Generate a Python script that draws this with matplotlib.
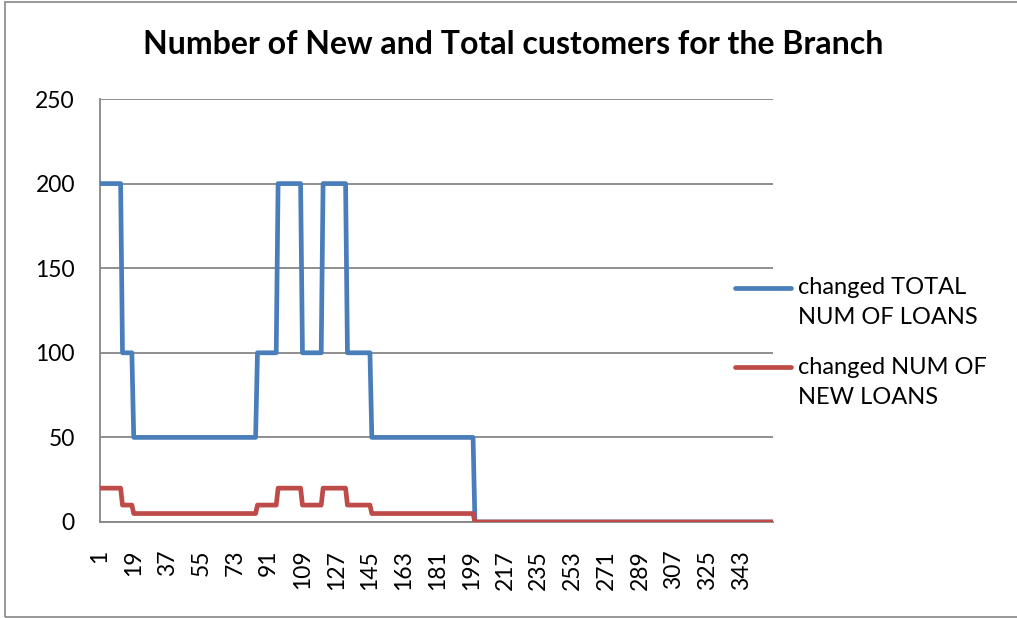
import numpy as np
import matplotlib
matplotlib.use("Agg")
import matplotlib.pyplot as plt
from matplotlib.patches import Rectangle
from matplotlib.lines import Line2D

# Run-length description of the two series (level, number of days)
run_lengths = [12, 6, 66, 11, 13, 11, 13, 13, 55, 160]
total_levels = [200, 100, 50, 100, 200, 100, 200, 100, 50, 0]
new_levels = [20, 10, 5, 10, 20, 10, 20, 10, 5, 0]

total_loans = np.repeat(total_levels, run_lengths)
new_loans = np.repeat(new_levels, run_lengths)
days = np.arange(1, len(total_loans) + 1)

x_tick_labels = list(range(1, 344, 18))
y_ticks = [0, 50, 100, 150, 200, 250]

series_names = ["changed TOTAL\nNUM OF LOANS", "changed NUM OF\nNEW LOANS"]
title = "Number of New and Total customers for the Branch"

plt.rcParams["font.family"] = ["Lato", "DejaVu Sans"]

W, H = 1017, 618
fig = plt.figure(figsize=(W / 100, H / 100), dpi=100)

# outer chart frame
fig.patches.append(Rectangle((5 / W, 1 / H), 1.2, (616 - 1) / H, transform=fig.transFigure,
                             fill=False, edgecolor="#868686", linewidth=1.2))

left, right, top, bottom = 100, 773, 99, 522
ax = fig.add_axes([left / W, 1 - bottom / H, (right - left) / W, (bottom - top) / H])

blue = "#4A7EBB"
red = "#BE4B48"
colors = [blue, red]
ax.plot(days, total_loans, color=blue, lw=3.4, solid_joinstyle="round",
        solid_capstyle="round", zorder=3)
ax.plot(days, new_loans, color=red, lw=3.4, solid_joinstyle="round",
        solid_capstyle="round", zorder=3)

ax.set_xlim(days[0], days[-1])
ax.set_ylim(0, 250)
ax.set_yticks(y_ticks)
ax.set_xticks(x_tick_labels)
ax.set_xticklabels([str(v) for v in x_tick_labels], rotation=90, va="top")
ax.tick_params(axis="both", length=0, labelsize=16.5, colors="black")
ax.tick_params(axis="x", pad=20)
ax.tick_params(axis="y", pad=18)

ax.grid(axis="y", color="#868686", lw=1.3)
ax.grid(axis="x", visible=False)
ax.set_axisbelow(True)
for side in ["top", "right"]:
    ax.spines[side].set_visible(False)
for side in ["left", "bottom"]:
    ax.spines[side].set_color("#868686")
    ax.spines[side].set_linewidth(1.3)

fig.text(513 / W, 1 - 45 / H, title, ha="center", va="center",
         fontsize=23, fontweight="bold")

# legend: line sample aligned with the first line of each two-line label
legend_rows = [288, 367]
for name, color, yc in zip(series_names, colors, legend_rows):
    yf = 1 - yc / H
    fig.add_artist(Line2D([735 / W, 791 / W], [yf, yf], transform=fig.transFigure,
                          color=color, lw=3.4, solid_capstyle="round"))
    line1, line2 = name.split("\n")
    fig.text(798 / W, yf, line1, ha="left", va="center", fontsize=17)
    fig.text(798 / W, 1 - (yc + 30) / H, line2, ha="left", va="center", fontsize=17)

fig.savefig("out.png", dpi=100)
